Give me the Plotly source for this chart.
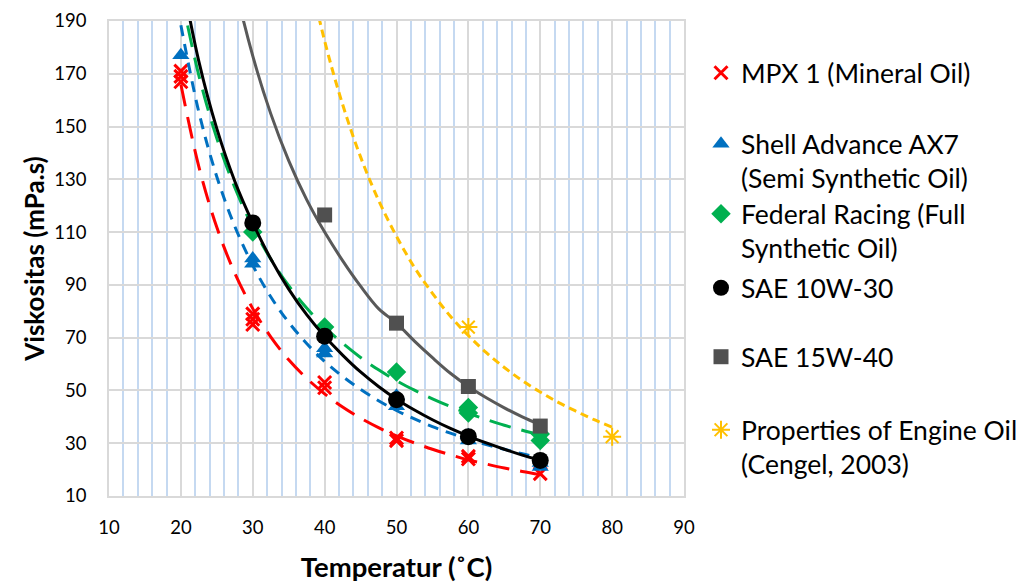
import plotly.graph_objects as go

# ---------------- data ----------------
temp_ticks = [10, 20, 30, 40, 50, 60, 70, 80, 90]
visc_ticks = [10, 30, 50, 70, 90, 110, 130, 150, 170, 190]

series_names = [
    "MPX 1 (Mineral Oil)",
    "Shell Advance AX7<br>(Semi Synthetic Oil)",
    "Federal Racing (Full<br>Synthetic Oil)",
    "SAE 10W-30",
    "SAE 15W-40",
    "Properties of Engine Oil<br>(Cengel, 2003)",
]

# measured points
mpx_x = [20, 20, 20, 30, 30, 30, 40, 40, 50, 50, 60, 60, 70]
mpx_y = [171, 169, 167, 79, 77, 75, 53, 51, 32, 31, 25, 24, 18.5]

shell_x = [20, 30, 30, 40, 40, 50, 50, 60, 60, 70, 70]
shell_y = [177, 100, 98, 66, 64, 48, 44, 33, 31, 22.5, 21]

federal_x = [30, 40, 50, 60, 60, 70, 70]
federal_y = [110, 74, 57, 43.5, 41.5, 33.5, 31]

sae1030_x = [30, 40, 50, 60, 70]
sae1030_y = [113.5, 70.5, 46.5, 32.5, 23.5]

sae1540_x = [40, 50, 60, 70]
sae1540_y = [116.5, 75.5, 51.5, 36.5]

cengel_x = [60, 80]
cengel_y = [74, 32.5]

# trend curves: values, every 2.5 degrees
trend_x = [20, 22.5, 25, 27.5, 30, 32.5, 35, 37.5, 40, 42.5, 45, 47.5, 50,
           52.5, 55, 57.5, 60, 62.5, 65, 67.5, 70]
mpx_trend_y = [166, 134.8, 111.8, 94.5, 81, 70.3, 61.6, 54.6, 48.7, 43.7, 39.5, 35.9, 32.8,
               30.1, 27.7, 25.6, 23.7, 22.1, 20.6, 19.3, 18.1]
shell_trend_y = [188.4, 155.5, 131, 112.2, 97.4, 85.5, 75.8, 67.8, 61, 55.3, 50.4, 46.1, 42.4,
                 39.2, 36.3, 33.8, 31.5, 29.5, 27.7, 26, 24.5]
federal_trend_y = [200.7, 169.4, 145.6, 126.9, 112, 99.8, 89.7, 81.2, 74, 67.9, 62.5, 57.8, 53.7,
                   50.1, 46.8, 43.9, 41.3, 39, 36.8, 34.9, 33.1]
sae1030_trend_y = [208.5, 174.7, 149.2, 129.3, 113.5, 99.9, 88.4, 78.7, 70.5, 63.4, 57, 51.5, 46.7,
                   42.6, 38.9, 35.6, 32.7, 30.1, 27.7, 25.5, 23.6]

sae1540_trend_x = [25, 27.5, 30, 32.5, 35, 37.5, 40, 42.5, 45, 47.5, 50,
                   52.5, 55, 57.5, 60, 62.5, 65, 67.5, 70]
sae1540_trend_y = [239, 204.1, 176.8, 154.9, 137.1, 122.3, 110, 99.2, 89.5, 81, 75.5,
                   68.7, 62.4, 56.5, 51.5, 47.2, 43.4, 40, 37]

cengel_trend_x = [35, 37.5, 40, 42.5, 45, 47.5, 50, 52.5, 55, 57.5, 60, 62.5, 65, 67.5,
                  70, 72.5, 75, 77.5, 80]
cengel_trend_y = [249.6, 212.5, 182.5, 158.4, 138.5, 122.1, 108.4, 96.6, 86.8, 78.1, 70.8,
                  64.3, 58.7, 53.7, 49.4, 45.5, 42.1, 38.9, 36.1]

# ---------------- styles ----------------
FONT = "Lato"
RED = "#ff0000"
BLUE = "#0070c0"
GREEN = "#00b050"
BLACK = "#000000"
GRAY = "#595959"
YELLOW = "#ffc000"

fig = go.Figure()


def trend(x, y, color, dash):
    fig.add_trace(go.Scatter(
        x=x, y=y, mode="lines",
        line=dict(color=color, width=3, dash=dash, shape="spline", smoothing=1),
        showlegend=False, hoverinfo="skip"))


def points(x, y, name, symbol, color, size, legend, lw=0):
    fig.add_trace(go.Scatter(
        x=x, y=y, mode="markers", name=name, legend=legend,
        marker=dict(symbol=symbol, color=color, size=size,
                    line=dict(color=color, width=lw))))


trend(trend_x, mpx_trend_y, RED, "22px,11px")
points(mpx_x, mpx_y, series_names[0], "x-thin-open", RED, 13, "legend", 3)

trend(trend_x, shell_trend_y, BLUE, "11px,8px")
points(shell_x, shell_y, series_names[1], "triangle-up", BLUE, 15, "legend2")

trend(trend_x, federal_trend_y, GREEN, "22px,11px")
points(federal_x, federal_y, series_names[2], "diamond", GREEN, 15, "legend3")

trend(trend_x, sae1030_trend_y, BLACK, "solid")
points(sae1030_x, sae1030_y, series_names[3], "circle", BLACK, 17, "legend4")

trend(sae1540_trend_x, sae1540_trend_y, GRAY, "solid")
points(sae1540_x, sae1540_y, series_names[4], "square", "#505050", 15, "legend5")

trend(cengel_trend_x, cengel_trend_y, YELLOW, "8px,5px")
points(cengel_x, cengel_y, series_names[5], "asterisk-open", YELLOW, 15, "legend6", 2)

# page offset of the figure (browser body margin)
OFF = 8
W, H = 1024, 584
# plot area in page pixels: x 109..684, y 21..496
PX0, PX1, PY0, PY1 = 109, 684, 21, 496
L = PX0 - OFF
T = PY0 - OFF
R = W - (PX1 - OFF)
B = H - (PY1 - OFF)
pw, ph = PX1 - PX0, PY1 - PY0


def ly(page_y):
    return (PY1 - page_y) / ph


def lx(page_x):
    return (page_x - PX0) / pw


# first-line centres of each legend entry in the reference (page pixels)
legend_centres = [72, 143, 213, 287, 356, 429]
common = dict(font=dict(family=FONT, size=26.5, color="#000000"), bgcolor="rgba(0,0,0,0)",
              borderwidth=0, itemwidth=30, valign="top", tracegroupgap=0,
              xanchor="left", yanchor="top")
for i, c in enumerate(legend_centres):
    key = "legend" if i == 0 else f"legend{i+1}"
    fig.update_layout(**{key: dict(x=lx(701), y=ly(c - 23), **common)})

axis_common = dict(
    showline=True, linecolor="#d9d9d9", linewidth=1.5, mirror=True,
    showgrid=True, gridcolor="#d9d9d9", gridwidth=1.5,
    zeroline=False, ticks="", tickfont=dict(family=FONT, size=18.5, color="#000000"),
)

fig.update_xaxes(
    range=[10, 90], tickmode="array", tickvals=temp_ticks, ticktext=[str(v) for v in temp_ticks],
    ticklabelstandoff=14,
    minor=dict(dtick=2, tick0=10, showgrid=True, gridcolor="#c5d9f1", gridwidth=1.5),
    title=dict(text="Temperatur (˚C)",
               font=dict(family=FONT, size=27.5, color="#000000", weight="bold"),
               standoff=21),
    **axis_common)
fig.update_yaxes(
    range=[10, 190], tickmode="array", tickvals=visc_ticks, ticktext=[str(v) for v in visc_ticks],
    ticklabelstandoff=17,
    title=dict(text="Viskositas (mPa.s)",
               font=dict(family=FONT, size=26, color="#000000", weight="bold"),
               standoff=2),
    **axis_common)

fig.update_layout(
    width=W, height=H, autosize=False,
    margin=dict(l=L, r=R, t=T, b=B, autoexpand=False),
    paper_bgcolor="white", plot_bgcolor="white",
    font=dict(family=FONT),
)

fig.write_html("out.html")
